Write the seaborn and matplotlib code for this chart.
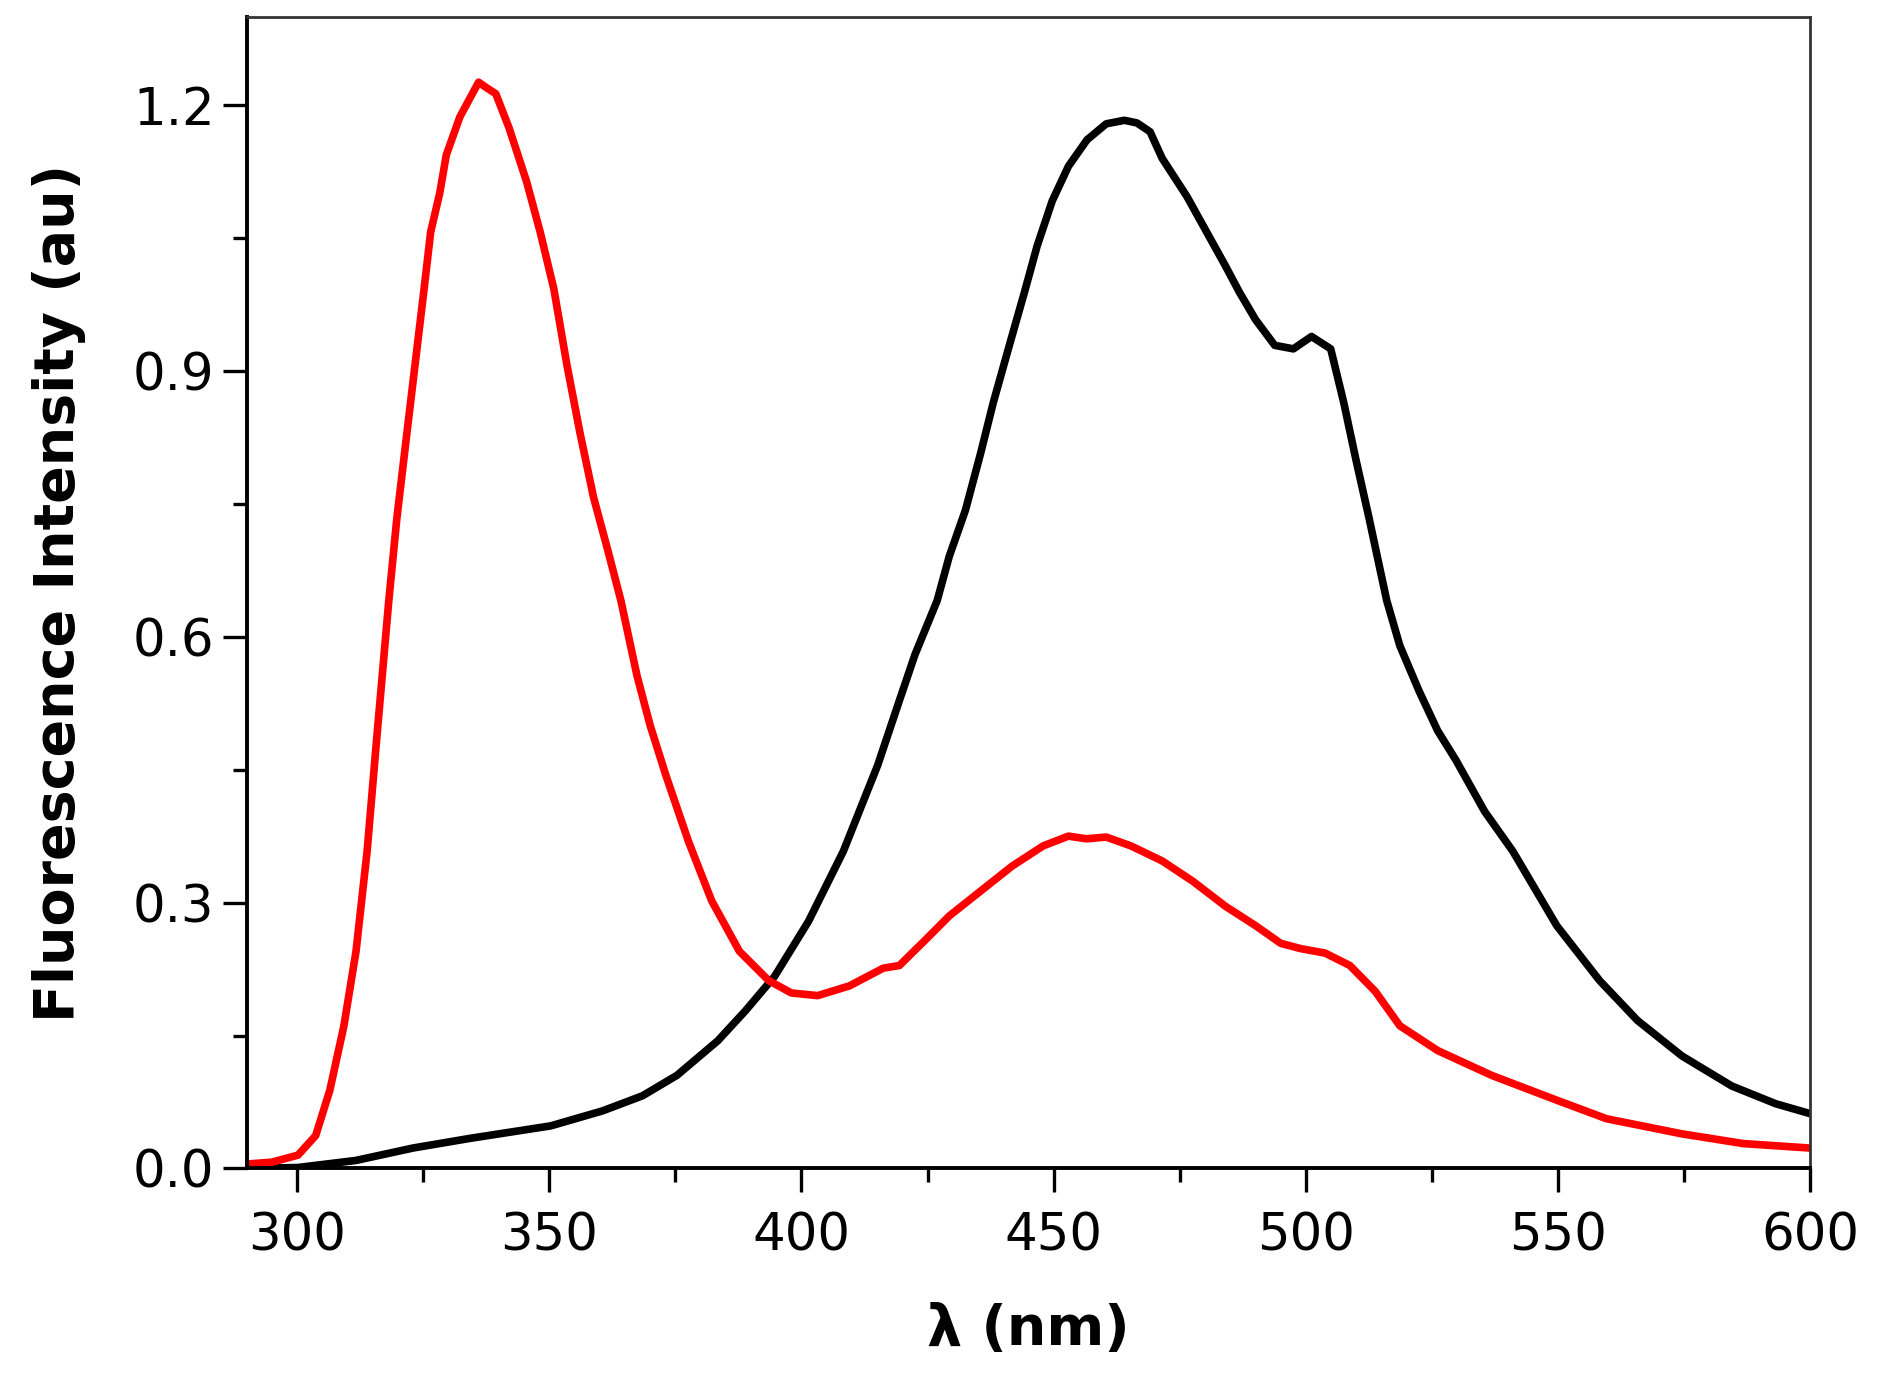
import numpy as np
import pandas as pd
import matplotlib.pyplot as plt
import seaborn as sns
from matplotlib.ticker import MultipleLocator

sns.set_theme(style="ticks")
plt.rcParams['font.family'] = ['DejaVu Sans']
plt.rcParams['text.color'] = 'black'
plt.rcParams['axes.labelcolor'] = 'black'
plt.rcParams['xtick.color'] = 'black'
plt.rcParams['ytick.color'] = 'black'

# red spectrum (wavelength nm, intensity au)
red_nm = [290.2, 295, 300.2, 303.7, 306.5, 309.3, 311.7, 313.9, 315.6, 318.2, 319.8, 321.6,
          323.4, 325.2, 326.5, 328.3, 329.6, 332.3, 334, 336, 337.5, 339.4, 342, 345.5, 348.2,
          350.9, 353.5, 356.1, 358.8, 361.5, 364.2, 367.4, 370, 373.1, 377.6, 382.2, 387.7,
          393.5, 398.0, 403.2, 409.5, 416.2, 419.4, 424.4, 429.3, 435.5, 441.7, 447.9, 452.9,
          456.5, 460.4, 465.3, 471.5, 477.6, 484, 490, 495, 499, 503.8, 508.7, 513.7, 518.6,
          526.1, 536.8, 549.7, 559.6, 574.5, 586.7, 599.8]
red_int = [0.005, 0.007, 0.015, 0.037, 0.088, 0.161, 0.245, 0.358, 0.472, 0.641, 0.734, 0.821,
           0.907, 0.993, 1.057, 1.101, 1.144, 1.187, 1.205, 1.226, 1.22, 1.213, 1.175, 1.114, 1.057,
           0.993, 0.907, 0.83, 0.757, 0.70, 0.641, 0.556, 0.50, 0.444, 0.369, 0.302, 0.245,
           0.212, 0.198, 0.195, 0.206, 0.226, 0.229, 0.257, 0.285, 0.313, 0.341, 0.364, 0.375,
           0.372, 0.374, 0.364, 0.347, 0.324, 0.296, 0.274, 0.254, 0.248, 0.243, 0.229, 0.2, 0.161,
           0.133, 0.105, 0.077, 0.056, 0.039, 0.028, 0.023]

# black spectrum
black_nm = [290, 300.2, 311.7, 323, 334.4, 350.3, 360.6, 368.5, 375.3, 383.4, 388.9, 394.7,
            401.4, 408.3, 415.1, 419.4, 422.5, 426.9, 429.3, 432.5, 435.5, 438, 441.2, 444.2,
            446.7, 449.7, 452.9, 456.6, 460.4, 464, 466.5, 469.1, 471.5, 476.4, 480.2, 484, 486.8,
            490, 493.8, 497.5, 501.1, 504.9, 507.5, 509.9, 512.5, 516, 518.6, 522.4, 526.1, 529.7,
            535.4, 541, 549.7, 558.2, 565.7, 574.5, 584.4, 593.1, 599.8]
black_int = [0.0, 0.001, 0.009, 0.023, 0.034, 0.048, 0.065, 0.082, 0.105, 0.144, 0.178, 0.217,
             0.279, 0.358, 0.455, 0.528, 0.58, 0.641, 0.691, 0.743, 0.807, 0.864, 0.929, 0.989,
             1.041, 1.092, 1.131, 1.161, 1.179, 1.183, 1.18, 1.17, 1.14, 1.097, 1.058, 1.019, 0.989,
             0.958, 0.929, 0.925, 0.939, 0.925, 0.864, 0.8, 0.734, 0.641, 0.59, 0.539, 0.494, 0.461,
             0.403, 0.358, 0.274, 0.212, 0.167, 0.127, 0.093, 0.073, 0.062]

df = pd.concat([
    pd.DataFrame({'nm': black_nm, 'intensity': black_int, 'series': 'black'}),
    pd.DataFrame({'nm': red_nm, 'intensity': red_int, 'series': 'red'}),
])

fig = plt.figure(figsize=(18.82, 13.86), dpi=100)
ax = fig.add_axes([0.131, 0.157, 0.831, 0.831])

sns.lineplot(data=df, x='nm', y='intensity', hue='series', sort=False,
             palette={'black': '#000000', 'red': '#ff0000'}, linewidth=5.5,
             legend=False, ax=ax)

ax.set_xlim(290, 600)
ax.set_ylim(0, 1.3)
ax.xaxis.set_major_locator(MultipleLocator(50))
ax.xaxis.set_minor_locator(MultipleLocator(25))
ax.yaxis.set_major_locator(MultipleLocator(0.3))
ax.yaxis.set_minor_locator(MultipleLocator(0.15))
ax.yaxis.set_major_formatter(plt.FuncFormatter(lambda v, p: f"{v:.1f}"))

ax.tick_params(which='major', length=17, width=2.4, labelsize=37, pad=6, color='black')
ax.tick_params(which='minor', length=10, width=2.4, color='black')
ax.tick_params(axis='x', pad=14)

for side in ['left', 'bottom']:
    ax.spines[side].set_linewidth(2.8)
    ax.spines[side].set_color('black')
for side in ['top', 'right']:
    ax.spines[side].set_linewidth(2)
    ax.spines[side].set_color('#333333')

ax.set_xlabel('λ (nm)', fontsize=40, fontweight='bold', labelpad=30)
ax.set_ylabel('Fluorescence Intensity (au)', fontsize=40, fontweight='bold', labelpad=34)

fig.savefig('out.png', dpi=100, facecolor='white')
